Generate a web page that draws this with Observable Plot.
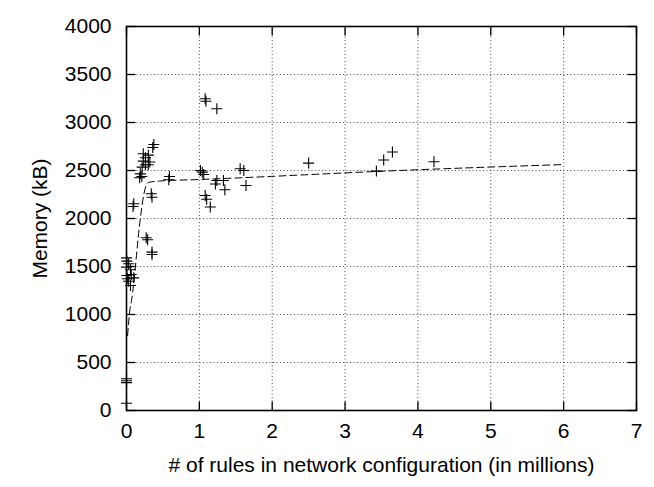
<!DOCTYPE html>
<html>
<head>
<meta charset="utf-8">
<script src="https://cdn.jsdelivr.net/npm/d3@7"></script>
<script src="https://cdn.jsdelivr.net/npm/@observablehq/plot@0.6"></script>
<style>
  html, body { margin: 0; padding: 0; background: #fff; }
  #chart svg { display: block; }
</style>
</head>
<body>
<div id="chart"></div>
<script>
// Measured points: rules (millions) and memory (kB)
const rulesM = [
  0.00, 0.00, 0.00, 0.00,
  0.00, 0.005, 0.03, 0.00, 0.055, 0.065, 0.005, 0.10, 0.01, 0.03, 0.055,
  0.375, 0.36, 0.23, 0.30, 0.26, 0.23, 0.32, 0.26, 0.30, 0.215, 0.19, 0.21, 0.18,
  0.59, 0.58,
  0.34, 0.35,
  0.10, 0.09,
  0.27, 0.29,
  0.35, 0.35,
  1.08, 1.09, 1.24,
  1.015, 1.04, 1.06,
  1.56, 1.61,
  1.24, 1.33, 1.22, 1.35, 1.64,
  1.08, 1.10, 1.15,
  2.50, 3.43, 3.53, 3.65, 4.22
];
const memoryKB = [
  76, 290, 310, 330,
  1590, 1556, 1528, 1493, 1466, 1417, 1406, 1382, 1372, 1347, 1302,
  2771, 2740, 2675, 2660, 2633, 2598, 2588, 2560, 2560, 2535, 2465, 2438, 2424,
  2438, 2404,
  2258, 2222,
  2153, 2125,
  1799, 1778,
  1650, 1625,
  3247, 3222, 3143,
  2500, 2483, 2458,
  2518, 2500,
  2396, 2396, 2360, 2300, 2344,
  2240, 2200, 2120,
  2577, 2494, 2609, 2692, 2591
];

// Fitted trend (dashed)
const fitRules  = [0.015, 0.045, 0.07, 0.19, 0.24, 0.30, 0.45, 1.0, 4.0, 6.0];
const fitMemory = [780, 1040, 1150, 2000, 2260, 2375, 2390, 2406, 2508, 2562];

const xTicks = [0, 1, 2, 3, 4, 5, 6, 7];
const yTicks = [0, 500, 1000, 1500, 2000, 2500, 3000, 3500, 4000];

const xTitle = "# of rules in network configuration (in millions)";
const yTitle = "Memory (kB)";

const points = rulesM.map((x, i) => ({x, y: memoryKB[i]}));
const fit = fitRules.map((x, i) => ({x, y: fitMemory[i]}));

// custom symbols
const plusSymbol = {
  draw(ctx, size) {
    const r = Math.sqrt(size / Math.PI);
    ctx.moveTo(-r, 0); ctx.lineTo(r, 0);
    ctx.moveTo(0, -r); ctx.lineTo(0, r);
  }
};
const TL = 9;
const tickUp = {draw(ctx) { ctx.moveTo(0, 0); ctx.lineTo(0, -TL); }};
const tickDown = {draw(ctx) { ctx.moveTo(0, 0); ctx.lineTo(0, TL); }};
const tickRight = {draw(ctx) { ctx.moveTo(0, 0); ctx.lineTo(TL, 0); }};
const tickLeft = {draw(ctx) { ctx.moveTo(0, 0); ctx.lineTo(-TL, 0); }};

const FONT = "Liberation Sans, Arial, Helvetica, sans-serif";
const FS = 21;

const chart = Plot.plot({
  width: 654,
  height: 487,
  marginLeft: 126,
  marginRight: 18,
  marginTop: 26,
  marginBottom: 77,
  style: {fontFamily: FONT, fontSize: FS + "px", background: "#fff", color: "#000"},
  x: {domain: [0, 7], axis: null},
  y: {domain: [0, 4000], axis: null},
  marks: [
    Plot.ruleX(xTicks.slice(1, -1), {x: d => d, stroke: "#000", strokeWidth: 1, strokeDasharray: "1,2.5", strokeOpacity: 0.7}),
    Plot.ruleY(yTicks.slice(1, -1), {y: d => d, stroke: "#000", strokeWidth: 1, strokeDasharray: "1,2.5", strokeOpacity: 0.7}),
    Plot.line(fit, {x: "x", y: "y", stroke: "#000", strokeWidth: 1, strokeDasharray: "7,4", curve: "monotone-x"}),
    Plot.dot(points, {x: "x", y: "y", symbol: plusSymbol, r: 5.5, stroke: "#000", strokeWidth: 1.1, fill: "none"}),
    // inward ticks
    Plot.dot(xTicks, {x: d => d, y: 0, symbol: tickUp, stroke: "#000", strokeWidth: 1.3, fill: "none"}),
    Plot.dot(xTicks, {x: d => d, y: 4000, symbol: tickDown, stroke: "#000", strokeWidth: 1.3, fill: "none"}),
    Plot.dot(yTicks, {x: 0, y: d => d, symbol: tickRight, stroke: "#000", strokeWidth: 1.3, fill: "none"}),
    Plot.dot(yTicks, {x: 7, y: d => d, symbol: tickLeft, stroke: "#000", strokeWidth: 1.3, fill: "none"}),
    Plot.frame({stroke: "#000", strokeWidth: 1.6}),
    // tick labels
    Plot.text(xTicks, {x: d => d, y: 0, text: d => String(d), dy: 21, fontSize: FS, fill: "#000"}),
    Plot.text(yTicks, {x: 0, y: d => d, text: d => String(d), textAnchor: "end", dx: -15, fontSize: FS, fill: "#000"}),
    // titles
    Plot.text([xTitle], {frameAnchor: "bottom", text: d => d, dy: 55, textAnchor: "middle", lineAnchor: "middle", fontSize: FS, fill: "#000"}),
    Plot.text([yTitle], {frameAnchor: "left", text: d => d, dx: -86, rotate: -90, textAnchor: "middle", lineAnchor: "middle", fontSize: FS, fill: "#000"})
  ]
});
document.getElementById("chart").appendChild(chart);
</script>
</body>
</html>
